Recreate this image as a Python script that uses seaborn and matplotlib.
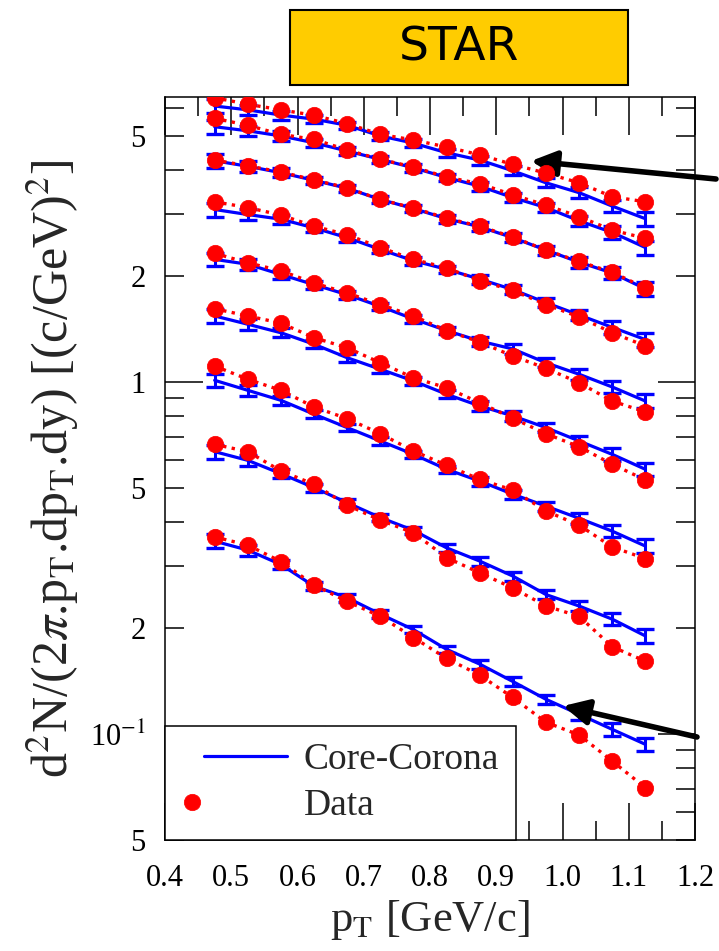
import numpy as np
import pandas as pd
import matplotlib
matplotlib.use("Agg")
import matplotlib.pyplot as plt
import seaborn as sns
from matplotlib.ticker import FixedLocator, FuncFormatter, MultipleLocator
from matplotlib.patches import Rectangle
from matplotlib.legend_handler import HandlerLine2D

# ---------------- data ----------------
pt = [0.475, 0.525, 0.575, 0.625, 0.675, 0.725, 0.775,
      0.825, 0.875, 0.925, 0.975, 1.025, 1.075, 1.125]

data_1 = [6.42, 6.15, 5.93, 5.72, 5.42, 5.05, 4.87, 4.65, 4.42, 4.15, 3.92, 3.68, 3.36, 3.25]
data_2 = [5.61, 5.36, 5.05, 4.89, 4.56, 4.29, 4.08, 3.82, 3.66, 3.40, 3.18, 2.95, 2.70, 2.56]
data_3 = [4.27, 4.11, 3.95, 3.75, 3.56, 3.30, 3.12, 2.92, 2.77, 2.58, 2.37, 2.20, 2.05, 1.85]
data_4 = [3.25, 3.13, 2.98, 2.77, 2.62, 2.41, 2.23, 2.11, 1.94, 1.82, 1.66, 1.53, 1.38, 1.266]
data_5 = [2.32, 2.18, 2.07, 1.91, 1.79, 1.66, 1.54, 1.40, 1.299, 1.185, 1.094, 0.995, 0.883, 0.822]
data_6 = [1.615, 1.54, 1.47, 1.336, 1.251, 1.134, 1.028, 0.963, 0.873, 0.789, 0.713, 0.655, 0.584, 0.527]
data_7 = [1.110, 1.018, 0.947, 0.849, 0.787, 0.713, 0.637, 0.580, 0.529, 0.493, 0.430, 0.392, 0.340, 0.315]
data_8 = [0.665, 0.634, 0.559, 0.512, 0.447, 0.405, 0.373, 0.317, 0.287, 0.260, 0.231, 0.216, 0.177, 0.161]
data_9 = [0.363, 0.344, 0.309, 0.265, 0.238, 0.216, 0.188, 0.164, 0.147, 0.127, 0.108, 0.0994, 0.0838, 0.0704]

model_1 = [6.08, 5.93, 5.73, 5.58, 5.36, 5.00, 4.77, 4.48, 4.27, 3.98, 3.68, 3.45, 3.16, 2.91]
model_2 = [5.31, 5.17, 5.00, 4.78, 4.53, 4.29, 4.06, 3.81, 3.60, 3.34, 3.13, 2.87, 2.66, 2.41]
model_3 = [4.25, 4.10, 3.93, 3.74, 3.55, 3.30, 3.11, 2.91, 2.76, 2.57, 2.37, 2.19, 2.04, 1.84]
model_4 = [3.09, 2.99, 2.90, 2.74, 2.57, 2.38, 2.21, 2.09, 1.96, 1.83, 1.68, 1.55, 1.43, 1.32]
model_5 = [2.23, 2.16, 2.02, 1.89, 1.77, 1.64, 1.51, 1.40, 1.307, 1.241, 1.134, 1.052, 0.968, 0.883]
model_6 = [1.54, 1.459, 1.380, 1.280, 1.172, 1.087, 1.007, 0.923, 0.855, 0.801, 0.742, 0.680, 0.623, 0.565]
model_7 = [1.011, 0.947, 0.887, 0.810, 0.742, 0.680, 0.623, 0.565, 0.523, 0.480, 0.444, 0.410, 0.377, 0.342]
model_8 = [0.634, 0.599, 0.549, 0.501, 0.454, 0.412, 0.379, 0.338, 0.310, 0.281, 0.249, 0.231, 0.212, 0.190]
model_9 = [0.353, 0.333, 0.303, 0.263, 0.244, 0.219, 0.198, 0.174, 0.158, 0.141, 0.1255, 0.1138, 0.1031, 0.0935]

# relative model uncertainty at each pT
model_relerr = [0.045, 0.035, 0.03, 0.025, 0.025, 0.025, 0.025,
                0.025, 0.03, 0.03, 0.03, 0.035, 0.04, 0.045]

data_series = [data_1, data_2, data_3, data_4, data_5, data_6, data_7, data_8, data_9]
model_series = [model_1, model_2, model_3, model_4, model_5, model_6, model_7, model_8, model_9]

ytick_major = [0.1, 1.0]
ytick_major_labels = [r"10$^{-1}$", "1"]
ytick_labeled_minor = {0.05: "5", 0.2: "2", 0.5: "5", 2.0: "2", 5.0: "5"}
xticks = [0.4, 0.5, 0.6, 0.7, 0.8, 0.9, 1.0, 1.1, 1.2]

# ---------------- style ----------------
sns.set_style("white")
plt.rcParams["font.family"] = ["Liberation Serif", "DejaVu Serif"]
plt.rcParams["mathtext.fontset"] = "stix"

BLUE = "#0000FF"
RED = "#FF0000"

fig = plt.figure(figsize=(7.19, 9.51), dpi=100)
ax = fig.add_axes([165 / 719, 1 - 840 / 951, 530 / 719, 743 / 951])

rows = []
for i, (d, m) in enumerate(zip(data_series, model_series)):
    for x, dv, mv, re in zip(pt, d, m, model_relerr):
        rows.append(dict(series=i, pt=x, data=dv, model=mv, err=mv * re))
df = pd.DataFrame(rows)

for i in range(len(data_series)):
    sub = df[df.series == i]
    sns.lineplot(data=sub, x="pt", y="model", color=BLUE, lw=2.3, ax=ax,
                 label="Core-Corona" if i == 0 else None, legend=False, zorder=2)
    ax.errorbar(sub.pt, sub.model, yerr=sub.err, fmt="none", ecolor=BLUE,
                elinewidth=2.2, capsize=6.5, capthick=2.4, zorder=2)
for i in range(len(data_series)):
    sub = df[df.series == i]
    sns.lineplot(data=sub, x="pt", y="data", color=RED, lw=2.4, ax=ax,
                 dashes=False, legend=False, zorder=3)
    ax.lines[-1].set_linestyle((0, (1, 1.6)))
    ax.plot(sub.pt, sub.data, "o", color=RED, ms=11.8, mec=RED, mew=0.5, zorder=4,
            label="Data" if i == 0 else None)

ax.set_yscale("log")
ax.set_xlim(0.4, 1.2)
ax.set_ylim(0.05, 6.45)

ax.xaxis.set_major_locator(FixedLocator(xticks))
ax.xaxis.set_minor_locator(MultipleLocator(0.05))
ax.set_xticklabels([f"{v:.1f}" for v in xticks])

ax.yaxis.set_major_locator(FixedLocator(ytick_major))
ax.yaxis.set_major_formatter(FuncFormatter(
    lambda v, p: dict(zip(ytick_major, ytick_major_labels)).get(round(v, 6), "")))
minor_pos = [k * 10.0 ** e for e in (-2, -1, 0) for k in range(2, 10)]
ax.yaxis.set_minor_locator(FixedLocator(minor_pos))

def minor_fmt(v, p):
    for key, lab in ytick_labeled_minor.items():
        if abs(v - key) / key < 1e-6:
            return lab
    return ""
ax.yaxis.set_minor_formatter(FuncFormatter(minor_fmt))

for s in ax.spines.values():
    s.set_color("black")
    s.set_linewidth(1.1)
ax.tick_params(which="both", direction="in", top=True, right=True,
               left=True, bottom=True,
               colors="black", width=1.1, labelsize=22, pad=14)
ax.tick_params(which="major", length=27)
ax.tick_params(which="minor", length=14)
ax.tick_params(axis="x", which="both", pad=17)

ax.set_xlabel(r"p$_{\rm T}$ [GeV/c]", fontsize=32, labelpad=4)
ax.set_ylabel(r"d$^2$N/(2$\pi$.p$_{\rm T}$.dp$_{\rm T}$.dy) [(c/GeV)$^2$]",
              fontsize=36, labelpad=6)


class LeftMarkerHandler(HandlerLine2D):
    def create_artists(self, legend, orig_handle, xdescent, ydescent, width,
                       height, fontsize, trans):
        return super().create_artists(legend, orig_handle, xdescent, ydescent,
                                      width * 0.2, height, fontsize, trans)


# legend
handles, labels = ax.get_legend_handles_labels()
h_line = handles[labels.index("Core-Corona")]
h_data = handles[labels.index("Data")]
leg = ax.legend([h_line, h_data], ["Core-Corona", "Data"],
                loc="lower left", bbox_to_anchor=(0, 0), borderaxespad=0,
                frameon=True, fancybox=False, fontsize=27, handlelength=2.8,
                handletextpad=0.45, borderpad=0.45, labelspacing=0.3,
                handler_map={h_line: HandlerLine2D(xpad=0.6),
                             h_data: LeftMarkerHandler()})
leg.get_frame().set_edgecolor("black")
leg.get_frame().set_linewidth(1.1)
leg.get_frame().set_alpha(1)

# STAR badge
fig.add_artist(Rectangle((290 / 719, 1 - 85 / 951), 338 / 719, 75 / 951,
                         transform=fig.transFigure, facecolor="#FFCC00",
                         edgecolor="black", linewidth=1.5))
fig.text(459 / 719, 1 - 48 / 951, "STAR", ha="center", va="center",
         fontsize=34, family="DejaVu Sans", color="black")

# arrows
for (x0, y0, x1, y1) in [(716, 179, 531, 161), (697, 737, 563, 706)]:
    ax.annotate("", xy=(x1, 951 - y1), xytext=(x0, 951 - y0),
                xycoords="figure pixels", textcoords="figure pixels",
                arrowprops=dict(arrowstyle="-|>,head_length=0.9,head_width=0.45",
                                lw=4.0, color="black", mutation_scale=17,
                                shrinkA=0, shrinkB=0),
                annotation_clip=False)

fig.savefig("out.png", dpi=100)
